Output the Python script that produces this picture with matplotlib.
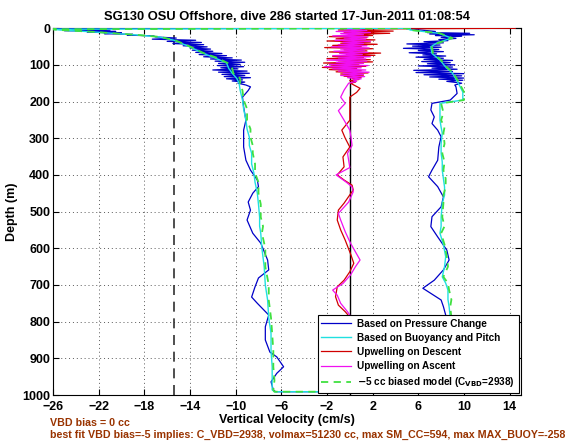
import matplotlib
matplotlib.use('Agg')
import matplotlib.pyplot as plt

plt.rcParams['font.family'] = ['Liberation Sans', 'DejaVu Sans']
plt.rcParams['font.weight'] = 'bold'
plt.rcParams['axes.labelweight'] = 'bold'
plt.rcParams['axes.titleweight'] = 'bold'

# ---- descent, pressure change (blue) ----
desc_depth_p = [0.3, 1, 3, 5, 7, 9, 11, 13, 15, 17, 19, 21, 24, 27, 30, 33, 36, 39, 42, 45,
                48, 51, 54, 57, 60, 63, 66, 69, 72, 75, 78, 81, 84, 87, 90, 93, 96, 99, 102,
                105, 108, 111, 114, 117, 120, 123, 126, 129, 132, 135, 138, 141, 144, 147,
                150, 155, 160, 170, 188, 215, 251, 278, 324, 360, 387, 414, 432, 450, 474,
                496, 523, 559, 586, 632, 659, 681, 705, 733, 750, 782, 814, 850, 883, 896,
                923, 941, 964, 986, 991]
desc_w_p = [6.8, -26, -24, -21, -25, -20.5, -23, -20, -21.5, -19, -19.5, -17.2, -17, -15.2,
            -17.3, -13.5, -16, -13, -15.5, -12.8, -14.6, -12.5, -14, -12.2, -13.8, -12,
            -13.5, -11.2, -13.2, -10.8, -12.8, -10.3, -12.2, -9.5, -11.8, -9.2, -11.5, -9.6,
            -11.6, -9.3, -11.3, -9.8, -12, -9, -11.5, -8.8, -11.2, -9.2, -11, -8.7, -10.8,
            -9.4, -10.3, -9.2, -9.8, -9.1, -8.7, -8.9, -9.4, -9.3, -9.1, -9.3, -9.3, -9.1,
            -8.7, -8.1, -8.0, -8.5, -8.9, -8.7, -9.0, -8.5, -7.8, -7.2, -7.1, -8.0, -8.3,
            -8.6, -8.1, -7.1, -7.4, -7.4, -7.0, -6.4, -5.8, -6.4, -6.9, -6.7, -6.5]

# ---- ascent, pressure change (blue) ----
asc_depth_p = [1, 3, 6, 9, 12, 14, 16, 18, 20, 22, 25, 28, 31, 34, 37, 40, 43, 46, 49, 52,
               55, 58, 61, 64, 67, 70, 73, 76, 79, 82, 85, 88, 91, 94, 97, 100, 103, 106,
               109, 112, 115, 118, 121, 124, 127, 130, 133, 136, 139, 142, 145, 150, 155,
               160, 178, 196, 205, 223, 242, 260, 278, 296, 324, 360, 387, 405, 432, 460,
               487, 514, 541, 569, 605, 632, 659, 687, 709, 723, 741, 759, 782, 820, 860,
               900, 930, 960, 985, 991]
asc_w_p = [5.0, 5.5, 6.5, 7.5, 6.8, 10.5, 7.0, 10.9, 7.5, 9.8, 8.0, 9.3, 7.8, 8.6, 6.5,
           8.2, 5.0, 7.9, 5.5, 8.0, 4.7, 7.8, 6.0, 8.2, 5.2, 7.6, 6.4, 8.4, 5.8, 8.2, 6.5,
           9.0, 6.3, 8.8, 6.8, 9.2, 6.0, 9.0, 7.2, 9.4, 5.6, 9.0, 5.8, 10.0, 6.5, 9.8, 7.0,
           10.0, 7.8, 9.9, 8.5, 9.8, 9.2, 9.3, 9.4, 8.8, 7.2, 7.1, 7.4, 7.2, 7.7, 8.0, 7.8,
           7.7, 7.2, 6.9, 7.7, 8.2, 8.0, 7.2, 7.1, 7.7, 8.5, 8.7, 8.2, 7.4, 6.4, 7.1, 8.0,
           8.2, 8.4, 8.6, 8.8, 9.3, 9.0, 9.5, 9.8, 10.5]

# ---- buoyancy and pitch model (cyan) and biased model (green) ----
desc_depth_m = [0.3, 3, 5, 10, 19, 24, 33, 50, 68, 80, 95, 110, 123, 137, 150, 170, 196,
                220, 251, 275, 297, 320, 341, 370, 395, 420, 450, 480, 515, 540, 559, 600,
                650, 700, 741, 790, 832, 880, 923, 960, 986, 991]
desc_w_c = [5.3, -26, -25.4, -22.6, -18.5, -16.7, -15.4, -14.1, -12.9, -11.9, -10.8, -10.6,
            -10.3, -9.9, -9.7, -9.6, -9.4, -9.3, -9.1, -9.0, -8.8, -8.8, -8.6, -8.6, -8.4,
            -8.3, -8.1, -8.0, -7.9, -7.9, -7.8, -7.7, -7.5, -7.4, -7.2, -7.1, -6.9, -6.9,
            -6.8, -6.8, -6.8, -6.6]
desc_w_g = [5.3, -26, -25.4, -22.5, -18.4, -16.6, -15.3, -14.0, -12.8, -11.7, -10.7, -10.3,
            -10.2, -9.6, -9.6, -9.4, -9.3, -9.0, -9.0, -8.7, -8.7, -8.5, -8.5, -8.3, -8.3,
            -8.0, -8.0, -7.8, -7.8, -7.6, -7.7, -7.4, -7.4, -7.1, -7.1, -6.9, -6.8, -6.7,
            -6.7, -6.6, -6.7, -6.6]

asc_depth_m = [1, 5, 14, 27, 41, 51, 69, 87, 106, 123, 150, 174, 196, 205, 230, 251, 270,
               286, 315, 341, 365, 387, 410, 433, 455, 477, 515, 540, 559, 590, 623, 650,
               678, 695, 714, 740, 759, 820, 880, 940, 985, 991]
asc_w_c = [5.0, 5.3, 7.8, 8.9, 7.6, 7.1, 7.2, 7.9, 8.4, 9.0, 9.5, 9.9, 9.9, 7.9, 7.9, 7.9,
           8.0, 8.1, 8.0, 8.0, 8.1, 8.1, 8.2, 8.3, 8.3, 8.1, 8.0, 8.0, 7.9, 8.2, 8.4, 8.3,
           8.1, 8.4, 8.6, 8.6, 8.7, 8.9, 9.2, 9.5, 9.9, 10.4]
asc_w_g = [5.0, 5.3, 7.9, 9.0, 7.7, 7.2, 7.3, 8.0, 8.5, 9.1, 9.6, 10.0, 10.0, 8.0, 8.2, 8.0,
           8.3, 8.2, 8.3, 8.1, 8.3, 8.2, 8.4, 8.4, 8.2, 8.2, 8.1, 8.3, 8.0, 8.3, 8.5, 8.6,
           8.2, 8.6, 8.7, 8.9, 8.8, 9.0, 9.3, 9.6, 10.0, 10.5]

# ---- upwelling on descent (red) ----
up_desc_depth = [0.3, 2, 5, 8, 11, 14, 17, 20, 23, 26, 29, 32, 35, 38, 41, 44, 47, 50, 53,
                 56, 59, 62, 65, 68, 71, 74, 77, 80, 83, 86, 89, 92, 95, 98, 101, 104, 107,
                 110, 113, 116, 119, 122, 125, 128, 131, 134, 137, 140, 143, 147, 150, 164,
                 175, 188, 251, 278, 300, 324, 351, 378, 400, 414, 428, 441, 477, 496, 523,
                 550, 578, 618, 641, 664, 687, 705, 732, 755, 773, 782, 820, 860, 900, 940,
                 980]
up_desc_w = [14.5, 2.5, -1.0, 3.8, -0.5, 3.5, 0.2, 2.0, -1.8, 1.5, -1.2, 2.2, -2.0, 1.8,
             -0.8, 2.4, -1.5, 1.0, -2.2, 2.0, -0.5, 1.5, -1.8, 2.7, -0.3, 2.2, -1.5, 1.2,
             -2.0, 1.8, -1.0, 2.0, -2.3, 0.8, -1.6, 1.4, -2.4, 0.6, -1.8, 1.0, -1.2, 1.6,
             -0.8, 1.2, -0.5, 1.0, 0.2, 0.8, 0.0, 0.5, 0.06, 0.9, 0.6, 0.0, 0.0, -0.7, -0.4,
             0.0, -0.6, -0.5, -1.1, -0.5, 0.2, 0.3, -0.5, -1.0, -1.1, -0.8, -0.4, 0.1, 0.35,
             0.0, -0.5, -1.1, -1.25, -1.0, -0.4, -0.15, 0.1, -0.3, 0.2, -0.2, 0.0]

# ---- upwelling on ascent (magenta) ----
up_asc_depth = [1, 3, 6, 9, 12, 15, 18, 21, 24, 27, 30, 33, 36, 39, 42, 45, 48, 51, 54, 57,
                60, 63, 66, 69, 72, 75, 78, 81, 84, 87, 90, 93, 96, 99, 102, 105, 108, 111,
                114, 117, 120, 123, 126, 129, 132, 135, 138, 141, 145, 150, 169, 188, 205,
                225, 251, 278, 296, 320, 341, 380, 400, 420, 433, 446, 474, 505, 523, 555,
                586, 632, 650, 673, 696, 714, 728, 750, 773, 782, 820, 870, 920, 970]
up_asc_w = [1.0, -0.5, 1.5, -1.2, 1.8, -0.8, 1.2, -1.5, 1.6, -0.5, 1.4, -1.3, 1.8, -0.6,
            1.2, -1.0, 1.5, -1.6, 1.7, -0.8, 1.3, -1.4, 1.6, -0.9, 1.1, -1.5, 1.8, -1.0,
            1.4, -2.0, 1.5, -1.2, 1.2, -1.8, 1.6, -2.2, 1.0, -1.5, 1.4, -1.0, 1.7, -0.6,
            1.2, -0.8, 1.3, -0.2, 1.0, 0.3, 0.6, -0.1, -0.5, -0.8, -0.4, -1.0, -0.5, 0.0,
            0.1, 0.2, -0.2, 0.0, -1.2, -0.3, 0.2, 0.3, -0.1, -1.0, -0.8, -0.4, 0.06, 0.9,
            0.5, 0.06, -0.6, -1.5, -1.1, -0.8, -0.2, 0.0, 0.3, -0.2, 0.1, -0.1]

vbd_bias_line = -15.4
x_ticks = list(range(-26, 15, 4))
y_ticks = list(range(0, 1001, 100))

fig = plt.figure(figsize=(5.68, 4.42), dpi=100)
ax = fig.add_axes([0.0933, 0.1063, 0.824, 0.830])

ax.plot(desc_w_p + asc_w_p[::-1], desc_depth_p + asc_depth_p[::-1], color='#0000C8',
        lw=0.9, label='Based on Pressure Change', zorder=3)
ax.plot(desc_w_c + asc_w_c[::-1], desc_depth_m + asc_depth_m[::-1], color='#20E0E0',
        lw=1.0, label='Based on Buoyancy and Pitch', zorder=4)
ax.plot(up_desc_w, up_desc_depth, color='#D00000', lw=0.9, label='Upwelling on Descent',
        zorder=3)
ax.plot(up_asc_w, up_asc_depth, color='#F010F0', lw=0.9, label='Upwelling on Ascent',
        zorder=3)
ax.plot(desc_w_g + asc_w_g[::-1], desc_depth_m + asc_depth_m[::-1], color='#40E040',
        lw=1.3, ls=(0, (4, 3)), label=r'$-$5 cc biased model (C$_{\mathbf{VBD}}$=2938)',
        zorder=5)

ax.axvline(vbd_bias_line, color='#303030', lw=1.2, ls=(0, (6, 4)), zorder=2)
ax.axvline(0, color='k', lw=1.0, zorder=2)

ax.set_xlim(-26, 15)
ax.set_ylim(1000, 0)
ax.set_xticks(x_ticks)
ax.set_yticks(y_ticks)
ax.grid(True, ls=(0, (1, 3)), color='0.35', lw=0.7)
ax.tick_params(direction='in', length=4, width=0.8, labelsize=9, top=True, right=True,
               pad=2)
ax.tick_params(axis='x', pad=4)

ax.set_title('SG130 OSU Offshore, dive 286 started 17-Jun-2011 01:08:54', fontsize=9.3,
             pad=6)
ax.set_xlabel('Vertical Velocity (cm/s)', fontsize=9, labelpad=1)
ax.set_ylabel('Depth (m)', fontsize=9, labelpad=3)

leg = ax.legend(loc='lower right', bbox_to_anchor=(0.995, 0.006), fontsize=7.2,
                fancybox=False, framealpha=1, edgecolor='k', handlelength=3.0,
                borderpad=0.35, labelspacing=0.42, borderaxespad=0, handletextpad=0.6)
leg.get_frame().set_linewidth(0.8)

fig.text(50 / 568, 1 - 423 / 442, 'VBD bias = 0 cc', color='#993300', fontsize=7.7,
         va='center', ha='left')
fig.text(50 / 568, 1 - 435 / 442,
         'best fit VBD bias=-5 implies: C_VBD=2938, volmax=51230 cc, max SM_CC=594, '
         'max MAX_BUOY=-258', color='#993300', fontsize=7.7, va='center', ha='left')

fig.savefig('out.png', dpi=100)
